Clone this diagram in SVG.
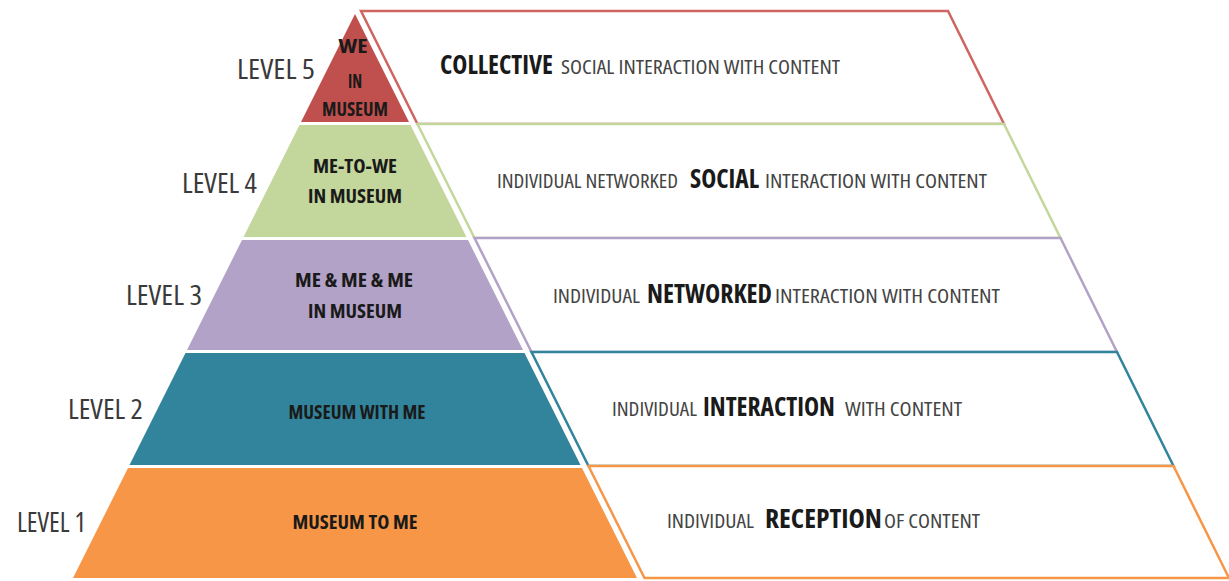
<svg xmlns="http://www.w3.org/2000/svg" width="1229" height="581" viewBox="0 0 1229 581">
<style>
text{font-family:"Open Sans","Liberation Sans",Arial,sans-serif;font-stretch:75%;}
.lvl{font-size:28px;fill:#3a3a3a;}
.pt{font-size:20px;font-weight:bold;fill:#1a1a1a;text-anchor:middle;}
.sm{font-size:20px;fill:#444;}
.bg{font-size:27px;font-weight:bold;fill:#1a1a1a;}
.box{fill:#fff;stroke-width:2.5;stroke-linejoin:miter;}
</style>
<rect width="1229" height="581" fill="#fff"/>
<g id="level5">
<polygon points="355,14 409,122 301,122" fill="#c0504d"/>
<polygon class="box" stroke="#cf6560" points="361,11 948,11 1004,124 417.5,124"/>
<text class="lvl" x="237" y="79" textLength="78" lengthAdjust="spacingAndGlyphs">LEVEL 5</text>
<text class="pt" x="353" y="53" textLength="29" lengthAdjust="spacingAndGlyphs">WE</text>
<text class="pt" x="355" y="88" textLength="14" lengthAdjust="spacingAndGlyphs">IN</text>
<text class="pt" x="355" y="116" textLength="66" lengthAdjust="spacingAndGlyphs">MUSEUM</text>
<text class="bg" x="440" y="74" textLength="113" lengthAdjust="spacingAndGlyphs">COLLECTIVE</text>
<text class="sm" x="561" y="74" textLength="279" lengthAdjust="spacingAndGlyphs">SOCIAL INTERACTION WITH CONTENT</text>
</g>
<g id="level4">
<polygon points="299.5,125 410.5,125 466.5,237 243.5,237" fill="#c3d69b"/>
<polygon class="box" stroke="#c3d69b" points="417.5,124 1004,124 1060.5,238 474.5,238"/>
<text class="lvl" x="182" y="193" textLength="75" lengthAdjust="spacingAndGlyphs">LEVEL 4</text>
<text class="pt" x="355" y="173" textLength="84" lengthAdjust="spacingAndGlyphs">ME-TO-WE</text>
<text class="pt" x="355" y="203" textLength="94" lengthAdjust="spacingAndGlyphs">IN MUSEUM</text>
<text class="sm" x="497" y="188" textLength="181" lengthAdjust="spacingAndGlyphs">INDIVIDUAL NETWORKED</text>
<text class="bg" x="690" y="188" textLength="69" lengthAdjust="spacingAndGlyphs">SOCIAL</text>
<text class="sm" x="765" y="188" textLength="222" lengthAdjust="spacingAndGlyphs">INTERACTION WITH CONTENT</text>
</g>
<g id="level3">
<polygon points="242,240 468,240 523,350 187,350" fill="#b2a2c7"/>
<polygon class="box" stroke="#b2a2c7" points="474.5,238 1060.5,238 1117,352 531.5,352"/>
<text class="lvl" x="126" y="305" textLength="76" lengthAdjust="spacingAndGlyphs">LEVEL 3</text>
<text class="pt" x="354" y="287" textLength="118" lengthAdjust="spacingAndGlyphs">ME &amp; ME &amp; ME</text>
<text class="pt" x="355" y="318" textLength="94" lengthAdjust="spacingAndGlyphs">IN MUSEUM</text>
<text class="sm" x="553" y="303" textLength="87" lengthAdjust="spacingAndGlyphs">INDIVIDUAL</text>
<text class="bg" x="647" y="303" textLength="125" lengthAdjust="spacingAndGlyphs">NETWORKED</text>
<text class="sm" x="775" y="303" textLength="225" lengthAdjust="spacingAndGlyphs">INTERACTION WITH CONTENT</text>
</g>
<g id="level2">
<polygon points="185.5,353 524.5,353 580.5,465 129.5,465" fill="#31849b"/>
<polygon class="box" stroke="#31849b" points="531.5,352 1117,352 1173.5,466 588.5,466"/>
<text class="lvl" x="68" y="419" textLength="75" lengthAdjust="spacingAndGlyphs">LEVEL 2</text>
<text class="pt" x="357" y="419" textLength="137" lengthAdjust="spacingAndGlyphs">MUSEUM WITH ME</text>
<text class="sm" x="612" y="416" textLength="85" lengthAdjust="spacingAndGlyphs">INDIVIDUAL</text>
<text class="bg" x="703" y="416" textLength="132" lengthAdjust="spacingAndGlyphs">INTERACTION</text>
<text class="sm" x="845" y="416" textLength="117" lengthAdjust="spacingAndGlyphs">WITH CONTENT</text>
</g>
<g id="level1">
<polygon points="128,468 582,468 637,578 73,578" fill="#f79646"/>
<polygon class="box" stroke="#f79646" points="588.5,466 1173.5,466 1229,578 644.5,578"/>
<text class="lvl" x="17" y="532" textLength="69" lengthAdjust="spacingAndGlyphs">LEVEL 1</text>
<text class="pt" x="355" y="529" textLength="125" lengthAdjust="spacingAndGlyphs">MUSEUM TO ME</text>
<text class="sm" x="667" y="528" textLength="87" lengthAdjust="spacingAndGlyphs">INDIVIDUAL</text>
<text class="bg" x="765" y="528" textLength="117" lengthAdjust="spacingAndGlyphs">RECEPTION</text>
<text class="sm" x="884" y="528" textLength="96" lengthAdjust="spacingAndGlyphs">OF CONTENT</text>
</g>
<g id="connectors"/>
</svg>
